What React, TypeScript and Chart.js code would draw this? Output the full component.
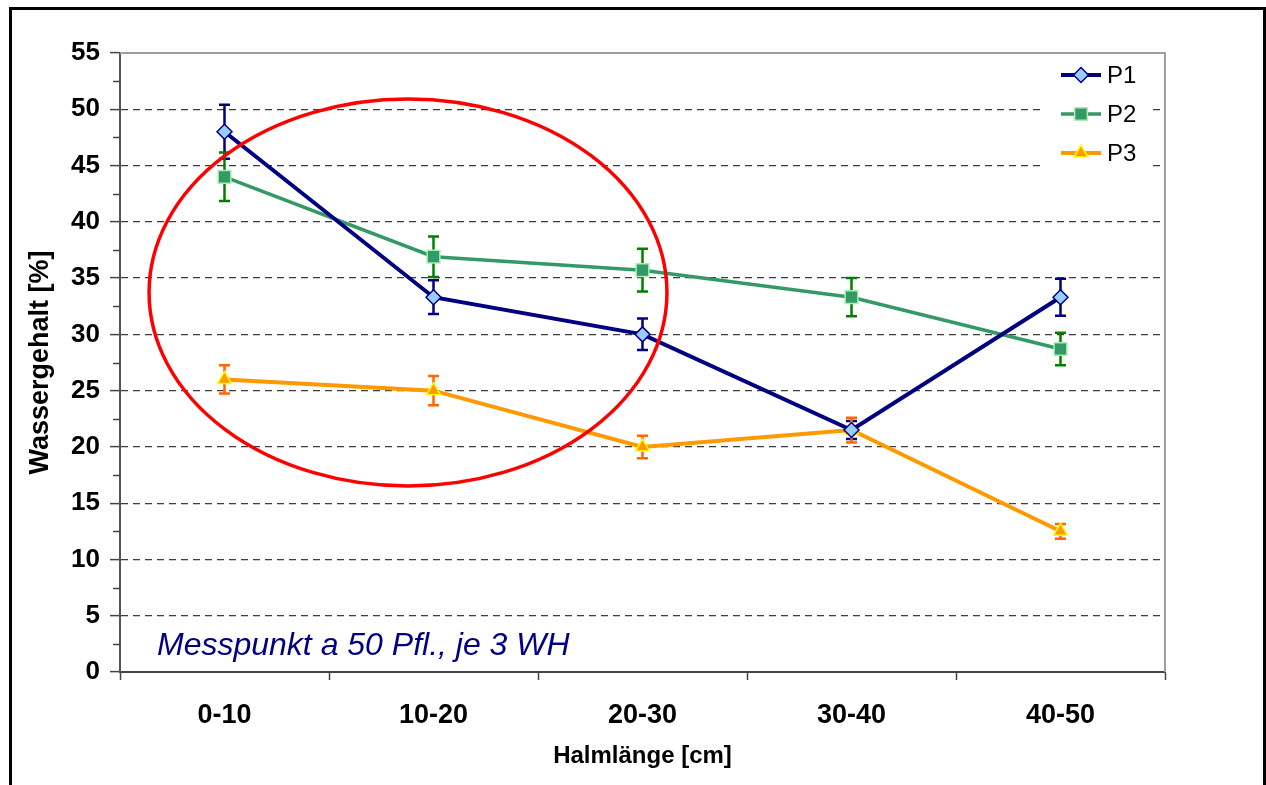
import React, { useEffect, useRef } from "react";
import { Chart, registerables } from "chart.js";

Chart.register(...registerables);

const categories = ["0-10", "10-20", "20-30", "30-40", "40-50"];
const p1Values = [48.0, 33.3, 30.0, 21.5, 33.3];
const p1Errors = [2.4, 1.5, 1.4, 0.8, 1.65];
const p2Values = [44.0, 36.9, 35.7, 33.3, 28.7];
const p2Errors = [2.15, 1.8, 1.9, 1.7, 1.45];
const p3Values = [26.0, 25.0, 20.0, 21.5, 12.5];
const p3Errors = [1.25, 1.3, 1.0, 1.1, 0.65];
const seriesNames = ["P1", "P2", "P3"];
const yTickMax = 55;
const yStep = 5;
const annotationText = "Messpunkt a 50 Pfl., je 3 WH";
const xTitle = "Halmlänge [cm]";
const yTitle = "Wassergehalt [%]";
// ellipse in data units: center category index, center value, radius in categories, radius in value units
const ellipseSpec = [0.878, 33.72, 1.239, 17.19];

const FONT = "Arial, 'Liberation Sans', sans-serif";

const styles = [
  { line: "#000080", fill: "#99CCFF", border: "#000080", err: "#000080", point: "rectRot", radius: 7.5, width: 4 },
  { line: "#339966", fill: "#339966", border: "#A8F0B0", err: "#008000", point: "rect", radius: 9, width: 3.5 },
  { line: "#FF9900", fill: "#FF9900", border: "#FFFF00", err: "#FF6600", point: "triangle", radius: 8, width: 4 },
];

function drawMarker(ctx: CanvasRenderingContext2D, kind: string, x: number, y: number, r: number, fill: string, stroke: string) {
  ctx.save();
  ctx.beginPath();
  if (kind === "rectRot") {
    ctx.moveTo(x - r, y);
    ctx.lineTo(x, y - r);
    ctx.lineTo(x + r, y);
    ctx.lineTo(x, y + r);
    ctx.closePath();
  } else if (kind === "rect") {
    const s = r * Math.SQRT1_2;
    ctx.rect(x - s, y - s, 2 * s, 2 * s);
  } else {
    const a = (Math.PI * 2) / 3;
    ctx.moveTo(x, y - r);
    ctx.lineTo(x + r * Math.sin(a), y - r * Math.cos(a));
    ctx.lineTo(x - r * Math.sin(a), y - r * Math.cos(a));
    ctx.closePath();
  }
  ctx.fillStyle = fill;
  ctx.fill();
  ctx.lineWidth = 1.5;
  ctx.strokeStyle = stroke;
  ctx.stroke();
  ctx.restore();
}

const errorSets = [p1Errors, p2Errors, p3Errors];
const valueSets = [p1Values, p2Values, p3Values];

const legendBox = { x: 1045, y: 57, w: 105, h: 115 };

const customPlugin = {
  id: "custom",
  beforeDatasetsDraw(chart: any) {
    const ctx: CanvasRenderingContext2D = chart.ctx;
    const y = chart.scales.y;
    ctx.save();
    ctx.fillStyle = "#FFFFFF";
    ctx.fillRect(legendBox.x, legendBox.y, legendBox.w, legendBox.h);
    // error bars
    valueSets.forEach((vals, di) => {
      const meta = chart.getDatasetMeta(di);
      ctx.strokeStyle = styles[di].err;
      ctx.lineWidth = 2.5;
      vals.forEach((v, i) => {
        const px = meta.data[i].x;
        const top = y.getPixelForValue(v + errorSets[di][i]);
        const bot = y.getPixelForValue(v - errorSets[di][i]);
        ctx.beginPath();
        ctx.moveTo(px, top);
        ctx.lineTo(px, bot);
        ctx.moveTo(px - 5.5, top);
        ctx.lineTo(px + 5.5, top);
        ctx.moveTo(px - 5.5, bot);
        ctx.lineTo(px + 5.5, bot);
        ctx.stroke();
      });
    });
    ctx.restore();
  },
  afterDatasetsDraw(chart: any) {
    const ctx: CanvasRenderingContext2D = chart.ctx;
    const { left, right, top, bottom } = chart.chartArea;
    const x = chart.scales.x;
    const y = chart.scales.y;
    ctx.save();
    // top & right plot border
    ctx.strokeStyle = "#A0A0A0";
    ctx.lineWidth = 2;
    ctx.beginPath();
    ctx.moveTo(left, top);
    ctx.lineTo(right, top);
    ctx.lineTo(right, bottom);
    ctx.stroke();
    // minor ticks
    ctx.strokeStyle = "#444444";
    ctx.lineWidth = 1.5;
    for (let v = yStep / 2; v < yTickMax; v += yStep) {
      const py = Math.round(y.getPixelForValue(v)) + 0.5;
      ctx.beginPath();
      ctx.moveTo(left - 7, py);
      ctx.lineTo(left, py);
      ctx.stroke();
    }
    // legend
    seriesNames.forEach((name, i) => {
      const ly = 75 + i * 39;
      const st = styles[i];
      ctx.strokeStyle = st.line;
      ctx.lineWidth = st.width;
      ctx.beginPath();
      ctx.moveTo(1061, ly);
      ctx.lineTo(1101, ly);
      ctx.stroke();
      drawMarker(ctx, st.point, 1081, ly, st.radius, st.fill, st.border);
      ctx.fillStyle = "#000000";
      ctx.font = `24px ${FONT}`;
      ctx.textBaseline = "middle";
      ctx.textAlign = "left";
      ctx.fillText(name, 1107, ly + 1);
    });
    // red ellipse
    const [cxI, cyV, rxC, ryV] = ellipseSpec;
    const c0 = x.getPixelForValue(0);
    const c1 = x.getPixelForValue(1);
    const catW = c1 - c0;
    const cx = c0 + cxI * catW;
    const cy = y.getPixelForValue(cyV);
    const rx = rxC * catW;
    const ry = Math.abs(y.getPixelForValue(0) - y.getPixelForValue(ryV));
    ctx.strokeStyle = "#FF0000";
    ctx.lineWidth = 3.5;
    ctx.beginPath();
    ctx.ellipse(cx, cy, rx, ry, 0, 0, Math.PI * 2);
    ctx.stroke();
    // annotation
    ctx.fillStyle = "#000080";
    ctx.font = `italic 32px ${FONT}`;
    ctx.textAlign = "left";
    ctx.textBaseline = "alphabetic";
    ctx.fillText(annotationText, 157, 655);
    // outer frame
    ctx.strokeStyle = "#000000";
    ctx.lineWidth = 3;
    ctx.beginPath();
    ctx.moveTo(10.5, 800);
    ctx.lineTo(10.5, 8.5);
    ctx.lineTo(1264.5, 8.5);
    ctx.lineTo(1264.5, 800);
    ctx.stroke();
    ctx.restore();
  },
};

export default function App() {
  const ref = useRef<HTMLCanvasElement | null>(null);
  useEffect(() => {
    if (!ref.current) return;
    const chart = new Chart(ref.current, {
      type: "line",
      data: {
        labels: categories,
        datasets: valueSets.map((vals, i) => ({
          label: seriesNames[i],
          data: vals,
          borderColor: styles[i].line,
          borderWidth: styles[i].width,
          backgroundColor: styles[i].fill,
          pointStyle: styles[i].point as any,
          pointRadius: styles[i].radius,
          pointBackgroundColor: styles[i].fill,
          pointBorderColor: styles[i].border,
          pointBorderWidth: 1.5,
          tension: 0,
          fill: false,
        })),
      },
      options: {
        responsive: false,
        animation: false,
        devicePixelRatio: 1,
        layout: { padding: { left: 0, top: 53, right: 101, bottom: 0 } },
        plugins: { legend: { display: false }, tooltip: { enabled: false } },
        scales: {
          x: {
            type: "category",
            offset: true,
            grid: {
              offset: true,
              drawOnChartArea: false,
              drawTicks: true,
              tickLength: 8,
              color: "#444444",
              tickColor: "#444444",
              tickWidth: 1.5,
            },
            border: { display: true, color: "#444444", width: 2 },
            ticks: {
              color: "#000000",
              font: { family: FONT, size: 27, weight: "bold" },
              padding: 19,
              maxRotation: 0,
            },
            title: {
              display: true,
              text: xTitle,
              color: "#000000",
              font: { family: FONT, size: 24, weight: "bold" },
              padding: { top: 0, bottom: 14 },
            },
            afterFit(scale: any) {
              scale.height = 113;
            },
          },
          y: {
            min: 0,
            max: yTickMax,
            ticks: {
              stepSize: yStep,
              color: "#000000",
              font: { family: FONT, size: 26, weight: "bold" },
              padding: 10,
            },
            grid: {
              drawTicks: true,
              tickLength: 10,
              tickColor: "#444444",
              tickWidth: 1.5,
              lineWidth: 1.2,
              color: (c: any) =>
                c.tick && (c.tick.value === 0 || c.tick.value === yTickMax) ? "rgba(0,0,0,0)" : "#3C3C3C",
            },
            border: { display: true, color: "#555555", width: 2, dash: [7, 5] },
            title: {
              display: true,
              text: yTitle,
              color: "#000000",
              font: { family: FONT, size: 27, weight: "bold" },
              padding: { top: 24, bottom: 0 },
            },
            afterFit(scale: any) {
              scale.width = 120;
            },
          },
        },
      },
      plugins: [customPlugin],
    });
    return () => chart.destroy();
  }, []);
  return (
    <div style={{ position: "absolute", left: 0, top: 0, width: 1266, height: 785, overflow: "hidden", background: "#fff" }}>
      <canvas ref={ref} width={1266} height={785} style={{ display: "block", width: 1266, height: 785 }} />
    </div>
  );
}
